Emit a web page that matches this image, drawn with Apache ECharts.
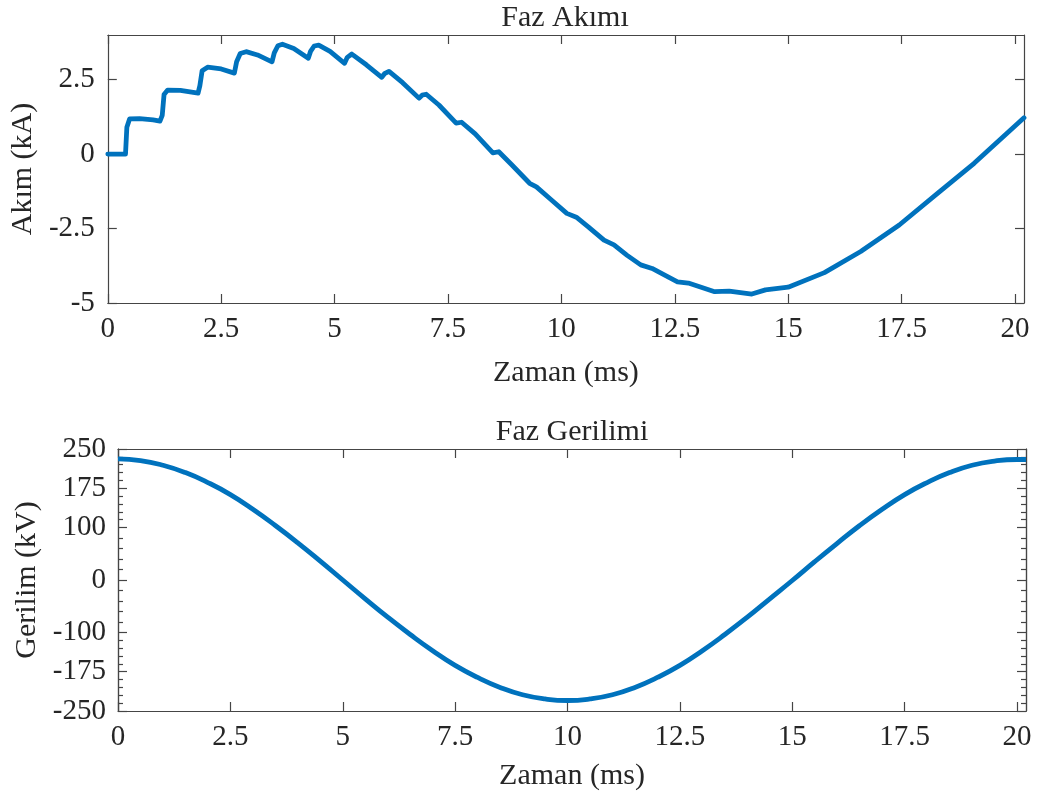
<!DOCTYPE html>
<html>
<head>
<meta charset="utf-8">
<script src="https://cdn.jsdelivr.net/npm/echarts@6.0.0/dist/echarts.min.js"></script>
<style>
    html, body { margin: 0; padding: 0; background: #fff; }
    #main { width: 1041px; height: 797px; }
</style>
</head>
<body>
<div id="main"></div>
<script>
// Faz akimi (kA)
var akimZaman = [0, 0.39, 0.42, 0.48, 0.7, 1.0, 1.15, 1.2, 1.24, 1.32, 1.6, 1.99, 2.03, 2.08, 2.2, 2.5, 2.79,
    2.84, 2.92, 3.05, 3.3, 3.62, 3.67, 3.75, 3.85, 4.1, 4.42, 4.47, 4.55, 4.65, 4.9, 5.22, 5.28, 5.38, 5.7,
    6.04, 6.1, 6.2, 6.5, 6.86, 6.93, 7.02, 7.3, 7.68, 7.8, 8.1, 8.49, 8.62, 8.9, 9.3, 9.45, 9.75, 10.12,
    10.33, 10.6, 10.94, 11.16, 11.45, 11.75, 12.0, 12.3, 12.56, 12.8, 13.38, 13.7, 14.2, 14.5, 15.0, 15.8,
    16.6, 17.45, 18.3, 19.1, 20.2];
var akim = [0, 0, 0.9, 1.18, 1.19, 1.15, 1.11, 1.3, 2.0, 2.15, 2.14, 2.05, 2.3, 2.8, 2.92, 2.86, 2.72,
    3.1, 3.38, 3.44, 3.33, 3.1, 3.4, 3.64, 3.69, 3.55, 3.22, 3.45, 3.63, 3.66, 3.45, 3.05, 3.25, 3.36, 3.0,
    2.58, 2.7, 2.78, 2.4, 1.88, 1.98, 2.01, 1.65, 1.04, 1.07, 0.68, 0.04, 0.08, -0.35, -0.98, -1.1, -1.5, -1.99,
    -2.12, -2.45, -2.89, -3.05, -3.4, -3.72, -3.84, -4.08, -4.29, -4.33, -4.62, -4.6, -4.7, -4.56, -4.47, -3.98,
    -3.27, -2.38, -1.31, -0.31, 1.22];

// Faz gerilimi (kV)
var gerilimZaman = [0, 0.5, 1, 1.5, 2, 2.5, 3, 3.5, 4, 4.5, 5, 5.5, 6, 6.5, 7, 7.5, 8, 8.5, 9, 9.5, 10,
    10.5, 11, 11.5, 12, 12.5, 13, 13.5, 14, 14.5, 15, 15.5, 16, 16.5, 17, 17.5, 18, 18.5, 19, 19.5, 20, 20.2];
var gerilim = [231, 228, 219, 205, 186, 163, 135, 104, 71, 36, 0, -36, -71, -104, -135, -163, -186, -205, -219, -227, -230,
    -227, -219, -205, -186, -163, -135, -104, -71, -36, -1, 35, 70, 104, 135, 163, 186, 205, 219, 227, 230, 230];

// eksen isaretleri
var xTicks = [0, 2.5, 5, 7.5, 10, 12.5, 15, 17.5, 20];
var akimTicks = [-5, -2.5, 0, 2.5];
var gerilimTicks = [-250, -175, -100, 0, 100, 175, 250];
var gerilimMinor = [-235, -220, -205, -190, -160, -145, -130, -115, -80, -60, -40, -20,
    20, 40, 60, 80, 115, 130, 145, 160, 190, 205, 220, 235];

var fontAd = 'Liberation Serif';
var cizgiRenk = '#454545';
var yaziRenk = '#262626';
var maviRenk = '#0072BD';

function pairs(xs, ys) {
    var out = [];
    for (var i = 0; i < xs.length; i++) {
        out.push([xs[i], ys[i]]);
    }
    return out;
}

function eksen(opts) {
    var ax = {
        type: 'value',
        gridIndex: opts.grid,
        position: opts.position,
        min: opts.min,
        max: opts.max,
        splitLine: { show: false },
        axisLine: { show: true, onZero: false, lineStyle: { color: cizgiRenk, width: 1.2 } },
        axisTick: {
            show: opts.tickLen > 0, inside: true, length: opts.tickLen,
            customValues: opts.ticks,
            lineStyle: { color: cizgiRenk, width: 1.2 }
        },
        axisLabel: {
            show: !!opts.labels,
            customValues: opts.ticks,
            margin: opts.margin || 10,
            color: yaziRenk,
            fontFamily: fontAd,
            fontSize: 29
        }
    };
    if (opts.name) {
        ax.name = opts.name;
        ax.nameLocation = 'middle';
        ax.nameGap = opts.nameGap;
        ax.nameTextStyle = { color: yaziRenk, fontFamily: fontAd, fontSize: 30 };
    }
    return ax;
}

var chart = echarts.init(document.getElementById('main'));

var option = {
    animation: false,
    backgroundColor: '#fff',
    title: [
        { text: 'Faz Akımı', left: 565, top: 3, textAlign: 'center', padding: 0,
          textStyle: { fontFamily: fontAd, fontSize: 30, fontWeight: 'normal', color: yaziRenk } },
        { text: 'Faz Gerilimi', left: 572, top: 417, textAlign: 'center', padding: 0,
          textStyle: { fontFamily: fontAd, fontSize: 30, fontWeight: 'normal', color: yaziRenk } }
    ],
    grid: [
        { left: 106, top: 35, width: 918, height: 268 },
        { left: 118, top: 449, width: 908, height: 262 }
    ],
    xAxis: [
        eksen({ grid: 0, position: 'bottom', min: 0, max: 20.2, ticks: xTicks, tickLen: 9, labels: true,
                margin: 12, name: 'Zaman (ms)', nameGap: 55 }),
        eksen({ grid: 0, position: 'top', min: 0, max: 20.2, ticks: xTicks, tickLen: 9 }),
        eksen({ grid: 1, position: 'bottom', min: 0, max: 20.2, ticks: xTicks, tickLen: 9, labels: true,
                margin: 12, name: 'Zaman (ms)', nameGap: 50 }),
        eksen({ grid: 1, position: 'top', min: 0, max: 20.2, ticks: xTicks, tickLen: 9 })
    ],
    yAxis: [
        eksen({ grid: 0, position: 'left', min: -5, max: 4, ticks: akimTicks, tickLen: 9, labels: true,
                margin: 13, name: 'Akım (kA)', nameGap: 65 }),
        eksen({ grid: 0, position: 'right', min: -5, max: 4, ticks: akimTicks, tickLen: 9 }),
        eksen({ grid: 1, position: 'left', min: -250, max: 250, ticks: gerilimTicks, tickLen: 9, labels: true,
                margin: 12, name: 'Gerilim (kV)', nameGap: 70 }),
        eksen({ grid: 1, position: 'left', min: -250, max: 250, ticks: gerilimMinor, tickLen: 5 }),
        eksen({ grid: 1, position: 'right', min: -250, max: 250, ticks: gerilimTicks, tickLen: 9 }),
        eksen({ grid: 1, position: 'right', min: -250, max: 250, ticks: gerilimMinor, tickLen: 5 })
    ],
    series: [
        {
            type: 'line',
            xAxisIndex: 0,
            yAxisIndex: 0,
            data: pairs(akimZaman, akim),
            showSymbol: false,
            lineStyle: { color: maviRenk, width: 4.8, join: 'round', cap: 'round' }
        },
        {
            type: 'line',
            xAxisIndex: 2,
            yAxisIndex: 2,
            data: pairs(gerilimZaman, gerilim),
            smooth: true,
            showSymbol: false,
            lineStyle: { color: maviRenk, width: 4.8 }
        }
    ]
};

chart.setOption(option);
</script>
</body>
</html>
